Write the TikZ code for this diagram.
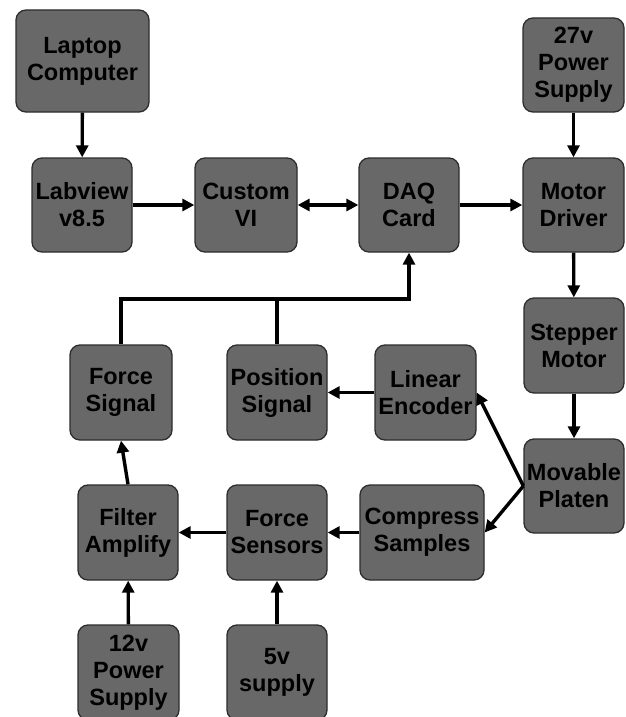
\documentclass[tikz,border=0pt]{standalone}
\usepackage{fontspec}
\setmainfont{Liberation Sans}
\usetikzlibrary{arrows.meta}
\definecolor{boxfill}{RGB}{104,104,104}
\definecolor{boxline}{RGB}{45,45,45}
\begin{document}
\begin{tikzpicture}[x=1pt,y=-1pt,
  box/.style={draw=boxline, fill=boxfill, line width=1.3pt, rounded corners=10pt,
    align=center, font=\fontsize{23.5}{27}\selectfont\bfseries, inner sep=0pt,
    text=black, minimum width=100pt, minimum height=94pt},
  arr/.style={line width=3.4pt, line join=miter, -{Triangle[length=12pt,width=12pt]}},
  ln/.style={line width=3.4pt}]
\useasboundingbox (0,0) rectangle (626,717);
\clip (0,0) rectangle (626,717);
\fill[white] (0,0) rectangle (626,717);

\node[box, minimum width=133pt, minimum height=102pt] (laptop) at (82.5,61) {Laptop\\Computer};
\node[box] (labview) at (82,205) {Labview\\v8.5};
\node[box, minimum width=102pt] (custom) at (246,205) {Custom\\VI};
\node[box] (daq) at (409,205) {DAQ\\Card};
\node[box, minimum width=101pt] (motor) at (573.5,205) {Motor\\Driver};
\node[box, minimum width=101pt] (ps27) at (573.5,65) {27v\\Power\\Supply};
\node[box, minimum height=95pt] (stepper) at (574,345.5) {Stepper\\Motor};
\node[box] (platen) at (574,486) {Movable\\Platen};
\node[box, minimum width=101pt, minimum height=95pt] (enc) at (425.5,392.5) {Linear\\Encoder};
\node[box, minimum height=95pt] (pos) at (277,392.5) {Position\\Signal};
\node[box, minimum width=102pt, minimum height=95pt] (fsig) at (121,392.5) {Force\\Signal};
\node[box, minimum width=124pt, minimum height=95pt] (comp) at (422,532.5) {Compress\\Samples};
\node[box, minimum height=95pt] (sens) at (277,532.5) {Force\\Sensors};
\node[box, minimum height=95pt] (filt) at (128,532.5) {Filter\\Amplify};
\node[box, minimum width=101pt, minimum height=95pt] (ps12) at (128.5,672.5) {12v\\Power\\Supply};
\node[box, minimum height=95pt] (ps5) at (277,672.5) {5v\\supply};

\coordinate (bus) at (409,299);

\draw[arr] (laptop) -- (labview);
\draw[arr] (labview) -- (custom);
\draw[line width=3.4pt, {Triangle[length=12pt,width=12pt]}-{Triangle[length=12pt,width=12pt]}] (custom) -- (daq);
\draw[arr] (daq) -- (motor);
\draw[arr] (ps27) -- (motor);
\draw[arr] (motor) -- (stepper);
\draw[arr] (stepper) -- (platen);
\draw[arr] (platen.west) -- (enc.east);
\draw[arr] (platen.west) -- (comp.east);
\draw[arr] (enc) -- (pos);
\draw[arr] (comp) -- (sens);
\draw[arr] (sens) -- (filt);
\draw[arr] (filt.north) -- (fsig.south);
\draw[arr] (ps12) -- (filt);
\draw[arr] (ps5) -- (sens);
\draw[arr] (fsig.north) |- (bus) -- (daq.south);
\draw[ln] (pos.north) -- (pos.north |- bus);
\end{tikzpicture}
\end{document}
